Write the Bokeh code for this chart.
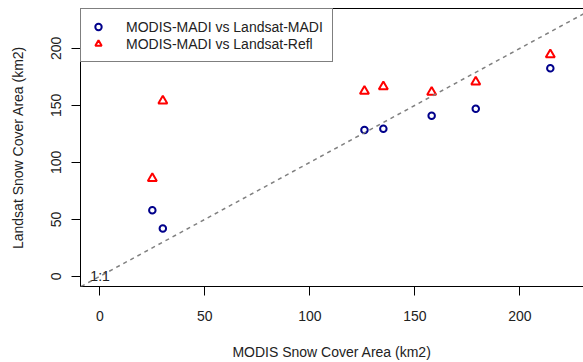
from bokeh.plotting import figure
from bokeh.models import Range1d, Slope, Legend, LegendItem, LinearAxis, FixedTicker, Label
from bokeh.embed import file_html
from bokeh.resources import INLINE

# Data
modis_x = [25, 30, 126, 135, 158, 179, 214.5]
landsat_madi = [58, 42, 128.5, 129.5, 141, 147, 182.5]
landsat_refl = [86, 154, 162.5, 166.5, 161.5, 170.5, 194.5]
x_ticks = [0, 50, 100, 150, 200]
y_ticks = [0, 50, 100, 150, 200]
legend_labels = ["MODIS-MADI vs Landsat-MADI", "MODIS-MADI vs Landsat-Refl"]

FONT = "Liberation Sans"
FS = "14px"

p = figure(width=583, height=362, output_backend="svg", toolbar_location=None,
           x_range=Range1d(-9.2, 230.3), y_range=Range1d(-8.9, 235.0),
           min_border_left=80, min_border_right=0, min_border_top=8, min_border_bottom=73,
           x_axis_label="MODIS Snow Cover Area (km2)",
           y_axis_label="Landsat Snow Cover Area (km2)")
p.outline_line_color = None
p.xgrid.visible = False
p.ygrid.visible = False
p.background_fill_color = "white"
p.border_fill_color = "white"

for ax, ticks in ((p.xaxis[0], x_ticks), (p.yaxis[0], y_ticks)):
    ax.ticker = FixedTicker(ticks=ticks)
    ax.minor_tick_line_color = None
    ax.major_tick_in = 0
    ax.major_tick_out = 9
    ax.major_tick_line_color = "black"
    ax.axis_line_color = "black"
    ax.major_label_text_font = FONT
    ax.major_label_text_font_size = FS
    ax.major_label_text_color = "#222222"
    ax.axis_label_text_font = FONT
    ax.axis_label_text_font_size = FS
    ax.axis_label_text_font_style = "normal"
    ax.axis_label_text_color = "#222222"

p.xaxis[0].major_label_standoff = 15
p.xaxis[0].axis_label_standoff = 20
p.yaxis[0].major_label_orientation = "vertical"
p.yaxis[0].major_label_standoff = 10
p.yaxis[0].axis_label_standoff = 23

# top box line
top = LinearAxis(ticker=FixedTicker(ticks=[]), major_label_text_font_size="0px",
                 major_tick_line_color=None, minor_tick_line_color=None,
                 axis_line_color="black")
p.add_layout(top, "above")

# 1:1 line
p.add_layout(Slope(gradient=1, y_intercept=0, line_color="#808080",
                   line_dash="4 4", line_width=1.5))
p.add_layout(Label(x=-4.5, y=0, text="1:1", text_font=FONT, text_font_size=FS,
                   text_baseline="middle", text_align="left", text_color="#222222"))

r1 = p.scatter(modis_x, landsat_madi, marker="circle", size=6.5, fill_color=None,
               line_color="#00008B", line_width=2)
r2 = p.scatter(modis_x, landsat_refl, marker="triangle", size=9, fill_color=None,
               line_color="#FF0000", line_width=2)

legend = Legend(items=[LegendItem(label=legend_labels[0], renderers=[r1]),
                       LegendItem(label=legend_labels[1], renderers=[r2])],
                location="top_left", margin=0, padding=9, spacing=0,
                glyph_width=16, glyph_height=17, label_standoff=20,
                label_text_font=FONT, label_text_font_size=FS, label_text_color="#222222",
                label_height=17,
                border_line_color="black", border_line_width=1,
                background_fill_color="white", background_fill_alpha=1.0)
p.add_layout(legend)

open("out.html", "w").write(file_html(p, INLINE))
